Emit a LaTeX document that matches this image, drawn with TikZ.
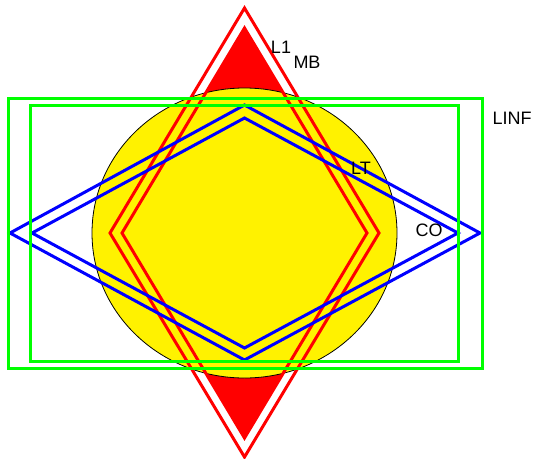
\documentclass[tikz,border=0pt]{standalone}
\usepackage{fontspec}
\setmainfont{Liberation Sans}
\begin{document}
\begin{tikzpicture}[x=1pt,y=-1pt, line join=miter,
  lbl/.style={font=\fontsize{18}{18}\selectfont, inner sep=0pt},
  wide/.style={line width=3pt}]
\useasboundingbox (0,0) rectangle (535,458);
% inner red diamond (filled)
\fill[red] (244.5,28) -- (367,233) -- (244.5,438) -- (122,233) -- cycle;
% yellow disc
\draw[fill=yellow, line width=0.8pt] (244.5,233) ellipse [x radius=152.5pt, y radius=145pt];
% red diamonds
\draw[red, wide] (244.5,28) -- (367,233) -- (244.5,438) -- (122,233) -- cycle;
\draw[red, wide] (244.5,8) -- (379,233) -- (244.5,457) -- (110,233) -- cycle;
% blue diamonds
\draw[blue, wide] (244.5,105) -- (480,233) -- (244.5,360) -- (10,233) -- cycle;
\draw[blue, wide] (244.5,118) -- (458,233) -- (244.5,348) -- (32,233) -- cycle;
% green rectangles
\draw[green, wide] (8,98) rectangle (482,368);
\draw[green, wide] (30,105.5) rectangle (458,361);
% labels
\node[lbl] (l1) at (281,47) {L1};
\node[lbl] (mb) at (307,62) {MB};
\node[lbl] (linf) at (512,118) {LINF};
\node[lbl] (lt) at (361,168) {LT};
\node[lbl] (co) at (429,230) {CO};
\end{tikzpicture}
\end{document}
